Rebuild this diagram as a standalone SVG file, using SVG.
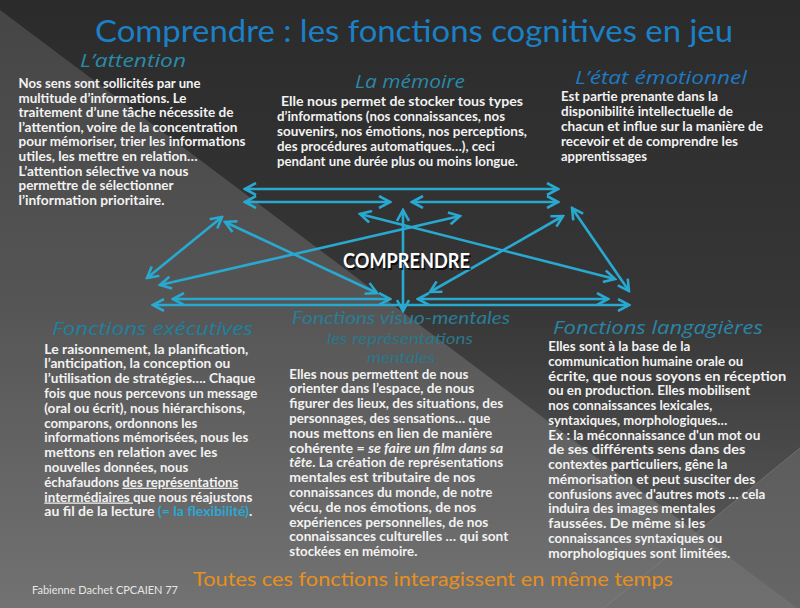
<svg xmlns="http://www.w3.org/2000/svg" width="800" height="608" viewBox="0 0 800 608">
<defs>
<linearGradient id="gDark" gradientUnits="userSpaceOnUse" x1="0" y1="0" x2="0" y2="608">
<stop offset="0" stop-color="#2b2b2b"/><stop offset="0.5" stop-color="#363636"/><stop offset="1" stop-color="#5e5e5e"/>
</linearGradient>
<linearGradient id="gLight" gradientUnits="userSpaceOnUse" x1="0" y1="0" x2="0" y2="608">
<stop offset="0" stop-color="#454545"/><stop offset="0.5" stop-color="#555555"/><stop offset="1" stop-color="#727272"/>
</linearGradient>
<marker id="ah" viewBox="0 0 14 14" refX="12" refY="7" markerWidth="14" markerHeight="14" markerUnits="userSpaceOnUse" orient="auto-start-reverse">
<path d="M1,1 L12,7 L1,13" fill="none" stroke="#29a8d0" stroke-width="2.6"/>
</marker>
<style>
.body{font-family:Lato,"Liberation Sans",sans-serif;font-weight:bold;font-size:12.5px;fill:#f2f2f2}
.head{font-family:"Open Sans",Lato,"Liberation Sans",sans-serif;font-style:italic;font-size:19px}
.vhead{font-family:Lato,"Open Sans","Liberation Sans",sans-serif;font-style:italic}
.title{font-family:Lato,"Liberation Sans",sans-serif;font-size:30px;fill:#1b80c6}
.conn line{stroke:#29a8d0;stroke-width:2.6;fill:none;marker-start:url(#ah);marker-end:url(#ah)}
</style>
</defs>

<g id="background">
<rect x="0" y="0" width="800" height="608" fill="url(#gDark)"/>
<polygon points="0,10 797,608 0,608" fill="url(#gLight)"/>
<polygon points="800,448 800,608 604,608" fill="#6d6d6d" opacity="0.55"/>
<line x1="800" y1="448" x2="604" y2="608" stroke="#8a8a8a" stroke-width="1" opacity="0.5"/>
</g>

<g id="title">
<text class="title" x="95" y="42" textLength="638" lengthAdjust="spacingAndGlyphs">Comprendre : les fonctions cognitives en jeu</text>
</g>

<g id="connectors" class="conn">
<line x1="245" y1="189" x2="558" y2="189"/>
<line x1="245" y1="202" x2="390" y2="202"/>
<line x1="412" y1="202" x2="558" y2="202"/>
<line x1="403" y1="210" x2="403" y2="311"/>
<line x1="360" y1="214" x2="615" y2="279"/>
<line x1="460" y1="216" x2="160" y2="285"/>
<line x1="222" y1="217" x2="147" y2="278"/>
<line x1="225" y1="222" x2="377" y2="293"/>
<line x1="563" y1="216" x2="430" y2="292"/>
<line x1="572" y1="208" x2="629" y2="291"/>
<line x1="173" y1="299" x2="390" y2="299"/>
<line x1="418" y1="299" x2="608" y2="299"/>
<line x1="153" y1="305" x2="629" y2="305"/>
</g>

<g id="comprendre">
<text x="344.5" y="269.5" font-family="Lato,'Liberation Sans',sans-serif" font-weight="bold" font-size="20.5" fill="#000" opacity="0.7" textLength="127" lengthAdjust="spacingAndGlyphs">COMPRENDRE</text>
<text x="343" y="268" font-family="Lato,'Liberation Sans',sans-serif" font-weight="bold" font-size="20.5" fill="#ffffff" textLength="127" lengthAdjust="spacingAndGlyphs">COMPRENDRE</text>
</g>

<g id="attention">
<text class="head" x="80" y="67" fill="#2a8ba9" textLength="106" lengthAdjust="spacingAndGlyphs">L’attention</text>
<text class="body" x="18.5" y="88" textLength="182" lengthAdjust="spacingAndGlyphs">Nos sens sont sollicités par une</text>
<text class="body" x="18.5" y="102.6" textLength="168" lengthAdjust="spacingAndGlyphs">multitude d’informations. Le</text>
<text class="body" x="18.5" y="117.2" textLength="215" lengthAdjust="spacingAndGlyphs">traitement d’une tâche nécessite de</text>
<text class="body" x="18.5" y="131.8" textLength="219" lengthAdjust="spacingAndGlyphs">l’attention, voire de la concentration</text>
<text class="body" x="18.5" y="146.4" textLength="227" lengthAdjust="spacingAndGlyphs">pour mémoriser, trier les informations</text>
<text class="body" x="18.5" y="161" textLength="179" lengthAdjust="spacingAndGlyphs">utiles, les mettre en relation…</text>
<text class="body" x="18.5" y="175.6" textLength="170" lengthAdjust="spacingAndGlyphs">L’attention sélective va nous</text>
<text class="body" x="18.5" y="190.2" textLength="155" lengthAdjust="spacingAndGlyphs">permettre de sélectionner</text>
<text class="body" x="18.5" y="204.8" textLength="146" lengthAdjust="spacingAndGlyphs">l’information prioritaire.</text>
</g>

<g id="memoire">
<text class="head" x="355" y="88" fill="#2a89a6" textLength="110" lengthAdjust="spacingAndGlyphs">La mémoire</text>
<text class="body" x="281" y="106" textLength="242" lengthAdjust="spacingAndGlyphs">Elle nous permet de stocker tous types</text>
<text class="body" x="277" y="121" textLength="228" lengthAdjust="spacingAndGlyphs">d’informations (nos connaissances, nos</text>
<text class="body" x="277" y="136" textLength="250" lengthAdjust="spacingAndGlyphs">souvenirs, nos émotions, nos perceptions,</text>
<text class="body" x="277" y="151" textLength="218" lengthAdjust="spacingAndGlyphs">des procédures automatiques…), ceci</text>
<text class="body" x="277" y="166" textLength="241" lengthAdjust="spacingAndGlyphs">pendant une durée plus ou moins longue.</text>
</g>

<g id="emotionnel">
<text class="head" x="575" y="84" fill="#1e7ac2" textLength="172" lengthAdjust="spacingAndGlyphs">L’état émotionnel</text>
<text class="body" x="561" y="101" textLength="157" lengthAdjust="spacingAndGlyphs">Est partie prenante dans la</text>
<text class="body" x="561" y="116" textLength="172" lengthAdjust="spacingAndGlyphs">disponibilité intellectuelle de</text>
<text class="body" x="561" y="131" textLength="202" lengthAdjust="spacingAndGlyphs">chacun et influe sur la manière de</text>
<text class="body" x="561" y="146" textLength="177" lengthAdjust="spacingAndGlyphs">recevoir et de comprendre les</text>
<text class="body" x="561" y="161" textLength="86" lengthAdjust="spacingAndGlyphs">apprentissages</text>
</g>

<g id="executives">
<text class="head" x="52" y="334.5" fill="#20809e" textLength="201" lengthAdjust="spacingAndGlyphs">Fonctions exécutives</text>
<text class="body" x="44.3" y="353.5" textLength="204" lengthAdjust="spacingAndGlyphs">Le raisonnement, la planification,</text>
<text class="body" x="44.3" y="368.3" textLength="186" lengthAdjust="spacingAndGlyphs">l’anticipation, la conception ou</text>
<text class="body" x="44.3" y="383.1" textLength="211" lengthAdjust="spacingAndGlyphs">l’utilisation de stratégies…. Chaque</text>
<text class="body" x="44.3" y="397.9" textLength="213" lengthAdjust="spacingAndGlyphs">fois que nous percevons un message</text>
<text class="body" x="44.3" y="412.7" textLength="201" lengthAdjust="spacingAndGlyphs">(oral ou écrit), nous hiérarchisons,</text>
<text class="body" x="44.3" y="427.5" textLength="153" lengthAdjust="spacingAndGlyphs">comparons, ordonnons les</text>
<text class="body" x="44.3" y="442.3" textLength="204" lengthAdjust="spacingAndGlyphs">informations mémorisées, nous les</text>
<text class="body" x="44.3" y="457.1" textLength="173" lengthAdjust="spacingAndGlyphs">mettons en relation avec les</text>
<text class="body" x="44.3" y="471.9" textLength="144" lengthAdjust="spacingAndGlyphs">nouvelles données, nous</text>
<text class="body" x="44.3" y="486.7" textLength="194" lengthAdjust="spacingAndGlyphs">échafaudons <tspan text-decoration="underline">des représentations</tspan></text>
<text class="body" x="44.3" y="501.5" textLength="208" lengthAdjust="spacingAndGlyphs"><tspan text-decoration="underline">intermédiaires </tspan>que nous réajustons</text>
<text class="body" x="44.3" y="516.3" textLength="208" lengthAdjust="spacingAndGlyphs">au fil de la lecture <tspan fill="#2aa8d4">(= la flexibilité)</tspan>.</text>
</g>

<g id="visuo-mentales">
<text class="vhead" x="292" y="324" font-size="18" fill="#2a7d96" textLength="218" lengthAdjust="spacingAndGlyphs">Fonctions visuo-mentales</text>
<text class="vhead" x="327" y="343.5" font-size="15.5" fill="#2b778a" textLength="146" lengthAdjust="spacingAndGlyphs">les représentations</text>
<text class="vhead" x="367" y="362.5" font-size="15.5" fill="#2b778a" textLength="68" lengthAdjust="spacingAndGlyphs">mentales</text>
<text class="body" x="289.3" y="378.5" textLength="179" lengthAdjust="spacingAndGlyphs">Elles nous permettent de nous</text>
<text class="body" x="289.3" y="393.3" textLength="185" lengthAdjust="spacingAndGlyphs">orienter dans l’espace, de nous</text>
<text class="body" x="289.3" y="408.1" textLength="214" lengthAdjust="spacingAndGlyphs">figurer des lieux, des situations, des</text>
<text class="body" x="289.3" y="422.9" textLength="201" lengthAdjust="spacingAndGlyphs">personnages, des sensations… que</text>
<text class="body" x="289.3" y="437.7" textLength="203" lengthAdjust="spacingAndGlyphs">nous mettons en lien de manière</text>
<text class="body" x="289.3" y="452.5" textLength="214" lengthAdjust="spacingAndGlyphs">cohérente = <tspan font-style="italic">se faire un film dans sa</tspan></text>
<text class="body" x="289.3" y="467.3" textLength="214" lengthAdjust="spacingAndGlyphs"><tspan font-style="italic">tête</tspan>. La création de représentations</text>
<text class="body" x="289.3" y="482.1" textLength="186" lengthAdjust="spacingAndGlyphs">mentales est tributaire de nos</text>
<text class="body" x="289.3" y="496.9" textLength="203" lengthAdjust="spacingAndGlyphs">connaissances du monde, de notre</text>
<text class="body" x="289.3" y="511.7" textLength="187" lengthAdjust="spacingAndGlyphs">vécu, de nos émotions, de nos</text>
<text class="body" x="289.3" y="526.5" textLength="199" lengthAdjust="spacingAndGlyphs">expériences personnelles, de nos</text>
<text class="body" x="289.3" y="541.3" textLength="219" lengthAdjust="spacingAndGlyphs">connaissances culturelles … qui sont</text>
<text class="body" x="289.3" y="556.1" textLength="128" lengthAdjust="spacingAndGlyphs">stockées en mémoire.</text>
</g>

<g id="langagieres">
<text class="head" x="553" y="333.5" fill="#2a85a6" textLength="210" lengthAdjust="spacingAndGlyphs">Fonctions langagières</text>
<text class="body" x="548.3" y="351.2" textLength="142" lengthAdjust="spacingAndGlyphs">Elles sont à la base de la</text>
<text class="body" x="548.3" y="365.95" textLength="195" lengthAdjust="spacingAndGlyphs">communication humaine orale ou</text>
<text class="body" x="548.3" y="380.7" textLength="238" lengthAdjust="spacingAndGlyphs">écrite, que nous soyons en réception</text>
<text class="body" x="548.3" y="395.45" textLength="202" lengthAdjust="spacingAndGlyphs">ou en production. Elles mobilisent</text>
<text class="body" x="548.3" y="410.2" textLength="164" lengthAdjust="spacingAndGlyphs">nos connaissances lexicales,</text>
<text class="body" x="548.3" y="424.95" textLength="179" lengthAdjust="spacingAndGlyphs">syntaxiques, morphologiques…</text>
<text class="body" x="548.3" y="439.7" textLength="212" lengthAdjust="spacingAndGlyphs">Ex : la méconnaissance d'un mot ou</text>
<text class="body" x="548.3" y="454.45" textLength="197" lengthAdjust="spacingAndGlyphs">de ses différents sens dans des</text>
<text class="body" x="548.3" y="469.2" textLength="179" lengthAdjust="spacingAndGlyphs">contextes particuliers, gêne la</text>
<text class="body" x="548.3" y="483.95" textLength="207" lengthAdjust="spacingAndGlyphs">mémorisation et peut susciter des</text>
<text class="body" x="548.3" y="498.7" textLength="217" lengthAdjust="spacingAndGlyphs">confusions avec d'autres mots … cela</text>
<text class="body" x="548.3" y="513.45" textLength="167" lengthAdjust="spacingAndGlyphs">induira des images mentales</text>
<text class="body" x="548.3" y="528.2" textLength="157" lengthAdjust="spacingAndGlyphs">faussées. De même si les</text>
<text class="body" x="548.3" y="542.95" textLength="174" lengthAdjust="spacingAndGlyphs">connaissances syntaxiques ou</text>
<text class="body" x="548.3" y="557.7" textLength="182" lengthAdjust="spacingAndGlyphs">morphologiques sont limitées.</text>
</g>

<g id="footer">
<text x="193" y="586" font-family="Lato,'Liberation Sans',sans-serif" font-size="20" fill="#e8901c" textLength="480" lengthAdjust="spacingAndGlyphs">Toutes ces fonctions interagissent en même temps</text>
<text x="32" y="594" font-family="Lato,'Liberation Sans',sans-serif" font-size="11" fill="#e6e6e6" textLength="146" lengthAdjust="spacingAndGlyphs">Fabienne Dachet CPCAIEN 77</text>
</g>
</svg>
